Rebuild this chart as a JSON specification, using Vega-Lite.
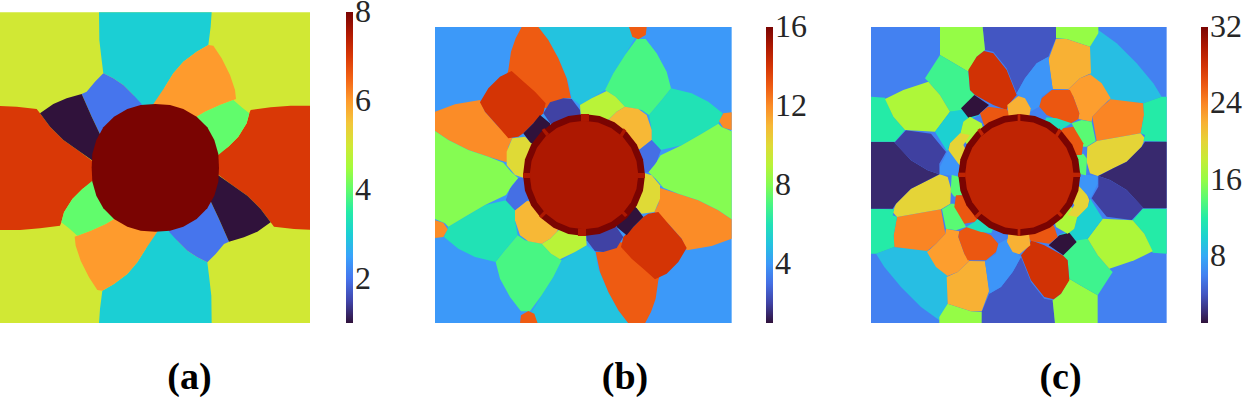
{"$schema":"https://vega.github.io/schema/vega-lite/v6.json","padding":0,"background":"white","spacing":0,"bounds":"flush","resolve":{"scale":{"color":"independent"},"legend":{"color":"independent"}},"config":{"view":{"stroke":null},"title":{"font":"Liberation Serif","fontSize":38,"fontWeight":"bold","color":"black","orient":"bottom"},"legend":{"title":null,"orient":"none","direction":"vertical","gradientThickness":7,"gradientStrokeWidth":0,"labelFont":"Liberation Serif","labelFontSize":32,"labelColor":"#262626","labelOffset":17,"labelOverlap":false}},"hconcat":[
{"width":435,"height":323,"title":{"text":"(a)","offset":36,"dx":-28},"projection":{"type":"identity","scale":0.33333,"translate":[0,0],"precision":0.5},"mark":{"type":"geoshape"},
"encoding":{"color":{"field":"v","type":"quantitative","scale":{"interpolate":"rgb","domain":[1,1.5,2,2.5,3,3.5,4,4.5,5,5.5,6,6.5,7,7.5,8],"range":["#30123b","#4145ab","#4675ed","#39a2fc","#1bcfd4","#24eca6","#61fc6c","#a4fc3b","#d1e834","#f3c63a","#fe9b2d","#f36315","#d93806","#b11901","#7a0402"]},"legend":{"type":"gradient","values":[2,4,6,8],"legendX":346,"legendY":12,"gradientLength":311,"encoding":{"labels":{"baseline":{"value":"middle"}}}}}},
"data":{"values":[
{"type":"Feature","v":5,"geometry":{"type":"Polygon","coordinates":[[[0,37],[930,37],[930,970],[0,970],[0,37]]]}},
{"type":"Feature","v":3,"geometry":{"type":"Polygon","coordinates":[[[297,37],[635,37],[632,80],[625,135],[590,155],[550,185],[520,220],[495,260],[460,350],[425,350],[400,285],[370,255],[340,235],[310,220],[305,180],[298,120],[297,37]]]}},
{"type":"Feature","v":3,"geometry":{"type":"Polygon","coordinates":[[[635,970],[297,970],[300,927],[307,872],[342,852],[382,822],[412,787],[437,747],[472,657],[507,657],[532,722],[562,752],[592,772],[622,787],[627,827],[634,887],[635,970]]]}},
{"type":"Feature","v":6,"geometry":{"type":"Polygon","coordinates":[[[460,312],[495,260],[520,220],[550,185],[590,155],[625,135],[640,137],[665,175],[690,225],[705,270],[708,297],[660,315],[615,335],[590,350],[540,400],[470,400],[460,312]]]}},
{"type":"Feature","v":6,"geometry":{"type":"Polygon","coordinates":[[[472,695],[437,747],[412,787],[382,822],[342,852],[307,872],[292,870],[267,832],[242,782],[227,737],[224,710],[272,692],[317,672],[342,657],[392,607],[462,607],[472,695]]]}},
{"type":"Feature","v":2,"geometry":{"type":"Polygon","coordinates":[[[260,275],[285,245],[310,220],[340,235],[370,255],[400,285],[425,312],[420,400],[340,440],[300,403],[275,350],[245,282],[260,275]]]}},
{"type":"Feature","v":2,"geometry":{"type":"Polygon","coordinates":[[[672,732],[647,762],[622,787],[592,772],[562,752],[532,722],[507,695],[512,607],[592,567],[632,604],[657,657],[687,725],[672,732]]]}},
{"type":"Feature","v":7,"geometry":{"type":"Polygon","coordinates":[[[0,318],[50,320],[110,327],[120,340],[150,380],[190,420],[240,455],[280,485],[280,545],[247,567],[217,597],[192,637],[184,667],[180,677],[120,685],[60,690],[0,690],[0,318]]]}},
{"type":"Feature","v":7,"geometry":{"type":"Polygon","coordinates":[[[930,689],[882,687],[822,680],[812,667],[782,627],[742,587],[692,552],[652,522],[652,462],[685,440],[715,410],[740,370],[748,340],[752,330],[812,322],[872,317],[930,317],[930,689]]]}},
{"type":"Feature","v":1,"geometry":{"type":"Polygon","coordinates":[[[120,340],[160,312],[200,295],[245,282],[275,350],[300,403],[340,440],[320,500],[275,480],[240,455],[190,420],[150,380],[120,340]]]}},
{"type":"Feature","v":1,"geometry":{"type":"Polygon","coordinates":[[[812,667],[772,695],[732,712],[687,725],[657,657],[632,604],[592,567],[612,507],[657,527],[692,552],[742,587],[782,627],[812,667]]]}},
{"type":"Feature","v":4,"geometry":{"type":"Polygon","coordinates":[[[590,350],[615,335],[660,315],[700,300],[725,322],[748,340],[740,370],[715,410],[685,440],[655,465],[600,430],[590,350]]]}},
{"type":"Feature","v":4,"geometry":{"type":"Polygon","coordinates":[[[342,657],[317,672],[272,692],[232,707],[207,685],[184,667],[192,637],[217,597],[247,567],[277,542],[332,577],[342,657]]]}},
{"type":"Feature","v":8,"geometry":{"type":"Polygon","coordinates":[[[466,312],[510,315],[550,327],[590,350],[622,382],[643,420],[655,462],[657,503],[655,545],[643,587],[622,625],[590,657],[550,680],[510,692],[466,695],[422,692],[382,680],[342,657],[310,625],[289,587],[277,545],[275,503],[277,462],[289,420],[310,382],[342,350],[382,327],[422,315],[466,312]]]}}
]}},
{"width":436,"height":323,"title":{"text":"(b)","offset":36,"dx":-28},"projection":{"type":"identity","scale":0.33333,"translate":[-10,15],"precision":0.6},"mark":{"type":"geoshape"},
"encoding":{"color":{"field":"v","type":"quantitative","scale":{"interpolate":"rgb","domain":[1,2.07,3.14,4.21,5.29,6.36,7.43,8.5,9.57,10.64,11.71,12.79,13.86,14.93,16],"range":["#30123b","#4145ab","#4675ed","#39a2fc","#1bcfd4","#24eca6","#61fc6c","#a4fc3b","#d1e834","#f3c63a","#fe9b2d","#f36315","#d93806","#b11901","#7a0402"]},"legend":{"type":"gradient","values":[4,8,12,16],"legendX":331,"legendY":27,"gradientLength":296,"encoding":{"labels":{"baseline":{"value":"middle"}}}}}},
"data":{"values":[
{"type":"Feature","v":4,"geometry":{"type":"Polygon","coordinates":[[[30,36],[920,36],[920,925],[30,925],[30,36]]]}},
{"type":"Feature","v":5,"geometry":{"type":"Polygon","coordinates":[[[340,36],[612,36],[630,70],[600,120],[565,175],[540,225],[500,250],[465,270],[440,250],[430,200],[400,130],[370,75],[340,36]]]}},
{"type":"Feature","v":5,"geometry":{"type":"Polygon","coordinates":[[[610,925],[338,925],[320,891],[350,841],[385,786],[410,736],[450,711],[485,691],[510,711],[520,761],[550,831],[580,886],[610,925]]]}},
{"type":"Feature","v":6,"geometry":{"type":"Polygon","coordinates":[[[672,300],[710,255],[738,220],[800,235],[850,260],[893,295],[880,326],[830,356],[770,391],[707,405],[680,375],[680,345],[672,300]]]}},
{"type":"Feature","v":6,"geometry":{"type":"Polygon","coordinates":[[[278,661],[240,706],[212,741],[150,726],[100,701],[57,666],[70,635],[120,605],[180,570],[243,556],[270,586],[270,616],[278,661]]]}},
{"type":"Feature","v":7,"geometry":{"type":"Polygon","coordinates":[[[540,225],[572,245],[600,275],[650,285],[672,300],[710,255],[738,220],[725,170],[695,115],[662,72],[635,72],[600,120],[565,175],[540,225]]]}},
{"type":"Feature","v":7,"geometry":{"type":"Polygon","coordinates":[[[410,736],[378,716],[350,686],[300,676],[278,661],[240,706],[212,741],[225,791],[255,846],[288,889],[315,889],[350,841],[385,786],[410,736]]]}},
{"type":"Feature","v":13,"geometry":{"type":"Polygon","coordinates":[[[290,36],[340,36],[370,75],[400,130],[425,190],[438,250],[415,250],[370,280],[300,270],[240,200],[250,165],[258,110],[272,70],[290,36]]]}},
{"type":"Feature","v":13,"geometry":{"type":"Polygon","coordinates":[[[660,925],[610,925],[580,886],[550,831],[525,771],[512,711],[535,711],[580,681],[650,691],[710,761],[700,796],[692,851],[678,891],[660,925]]]}},
{"type":"Feature","v":12,"geometry":{"type":"Polygon","coordinates":[[[30,290],[90,268],[165,255],[180,290],[220,335],[262,370],[250,395],[245,442],[190,425],[130,405],[70,375],[30,348],[30,290]]]}},
{"type":"Feature","v":12,"geometry":{"type":"Polygon","coordinates":[[[920,671],[860,693],[785,706],[770,671],[730,626],[688,591],[700,566],[705,519],[760,536],[820,556],[880,586],[920,613],[920,671]]]}},
{"type":"Feature","v":8,"geometry":{"type":"Polygon","coordinates":[[[30,348],[70,375],[130,405],[190,425],[235,443],[258,470],[280,490],[262,510],[243,540],[180,570],[120,605],[70,635],[60,625],[30,612],[30,348]]]}},
{"type":"Feature","v":8,"geometry":{"type":"Polygon","coordinates":[[[920,613],[880,586],[820,556],[760,536],[715,518],[692,491],[670,471],[688,451],[707,421],[770,391],[830,356],[880,326],[890,336],[920,349],[920,613]]]}},
{"type":"Feature","v":14,"geometry":{"type":"Polygon","coordinates":[[[260,168],[290,195],[330,230],[362,265],[355,295],[325,325],[295,355],[280,365],[250,370],[220,335],[180,290],[165,262],[190,220],[225,185],[260,168]]]}},
{"type":"Feature","v":14,"geometry":{"type":"Polygon","coordinates":[[[690,793],[660,766],[620,731],[588,696],[595,666],[625,636],[655,606],[670,596],[700,591],[730,626],[770,671],[785,699],[760,741],[725,776],[690,793]]]}},
{"type":"Feature","v":9,"geometry":{"type":"Polygon","coordinates":[[[465,270],[500,250],[545,228],[572,245],[600,275],[575,290],[555,310],[520,340],[470,340],[465,270]]]}},
{"type":"Feature","v":9,"geometry":{"type":"Polygon","coordinates":[[[485,691],[450,711],[405,733],[378,716],[350,686],[375,671],[395,651],[430,621],[480,621],[485,691]]]}},
{"type":"Feature","v":11,"geometry":{"type":"Polygon","coordinates":[[[555,310],[575,290],[600,275],[640,282],[665,300],[680,345],[680,375],[645,403],[600,400],[530,350],[555,310]]]}},
{"type":"Feature","v":11,"geometry":{"type":"Polygon","coordinates":[[[395,651],[375,671],[350,686],[310,679],[285,661],[270,616],[270,586],[305,558],[350,561],[420,611],[395,651]]]}},
{"type":"Feature","v":3,"geometry":{"type":"Polygon","coordinates":[[[645,403],[680,375],[708,405],[695,440],[670,472],[640,475],[620,430],[645,403]]]}},
{"type":"Feature","v":3,"geometry":{"type":"Polygon","coordinates":[[[305,558],[270,586],[242,556],[255,521],[280,489],[310,486],[330,531],[305,558]]]}},
{"type":"Feature","v":10,"geometry":{"type":"Polygon","coordinates":[[[262,370],[300,365],[320,385],[340,440],[330,488],[295,488],[270,480],[245,450],[245,410],[262,370]]]}},
{"type":"Feature","v":10,"geometry":{"type":"Polygon","coordinates":[[[688,591],[650,596],[630,576],[610,521],[620,473],[655,473],[680,481],[705,511],[705,551],[688,591]]]}},
{"type":"Feature","v":2,"geometry":{"type":"Polygon","coordinates":[[[355,295],[375,262],[415,250],[440,252],[465,285],[470,340],[400,360],[355,295]]]}},
{"type":"Feature","v":2,"geometry":{"type":"Polygon","coordinates":[[[595,666],[575,699],[535,711],[510,709],[485,676],[480,621],[550,601],[595,666]]]}},
{"type":"Feature","v":1,"geometry":{"type":"Polygon","coordinates":[[[295,355],[325,325],[345,300],[375,325],[380,370],[340,400],[315,382],[295,355]]]}},
{"type":"Feature","v":1,"geometry":{"type":"Polygon","coordinates":[[[655,606],[625,636],[605,661],[575,636],[570,591],[610,561],[635,579],[655,606]]]}},
{"type":"Feature","v":13,"geometry":{"type":"Polygon","coordinates":[[[612,36],[665,36],[662,60],[640,73],[622,65],[612,36]]]}},
{"type":"Feature","v":13,"geometry":{"type":"Polygon","coordinates":[[[338,925],[285,925],[288,901],[310,888],[328,896],[338,925]]]}},
{"type":"Feature","v":12,"geometry":{"type":"Polygon","coordinates":[[[895,295],[920,292],[920,345],[895,338],[882,318],[895,295]]]}},
{"type":"Feature","v":12,"geometry":{"type":"Polygon","coordinates":[[[55,666],[30,669],[30,616],[55,623],[68,643],[55,666]]]}},
{"type":"Feature","v":16,"geometry":{"type":"Polygon","coordinates":[[[660,480],[654,433],[635.5,388.5],[606,351],[568.5,321.5],[524,303],[477,297],[430,303],[385.5,321.5],[348,351],[318.5,388.5],[300,433],[294,480],[300,527],[318.5,571.5],[348,609],[385.5,638.5],[430,657],[477,663],[524,657],[568.5,638.5],[606,609],[635.5,571.5],[654,527],[660,480]]]}},
{"type":"Feature","v":15,"geometry":{"type":"Polygon","coordinates":[[[640,480],[634.4,438],[618.2,398.5],[592.3,364.7],[558.5,338.8],[519.2,322.6],[477,317],[434.8,322.6],[395.5,338.8],[361.7,364.7],[335.8,398.5],[319.6,438],[314,480],[319.6,522],[335.8,561.5],[361.7,595.3],[395.5,621.2],[434.8,637.4],[477,643],[519.2,637.4],[558.5,621.2],[592.3,595.3],[618.2,561.5],[634.4,522],[640,480]]]}},
{"type":"Feature","v":15,"geometry":{"type":"Polygon","coordinates":[[[468,297],[492,297],[492,320],[468,320],[468,297]]]}},
{"type":"Feature","v":15,"geometry":{"type":"Polygon","coordinates":[[[459,640],[483,640],[483,663],[459,663],[459,640]]]}},
{"type":"Feature","v":15,"geometry":{"type":"Polygon","coordinates":[[[294,474],[316,474],[316,489],[294,489],[294,474]]]}},
{"type":"Feature","v":15,"geometry":{"type":"Polygon","coordinates":[[[637,474],[660,474],[660,489],[637,489],[637,474]]]}},
{"type":"Feature","v":15,"geometry":{"type":"Polygon","coordinates":[[[350,345],[358,340],[372,356],[364,364],[350,345]]]}},
{"type":"Feature","v":15,"geometry":{"type":"Polygon","coordinates":[[[596,340],[604,347],[592,366],[584,360],[596,340]]]}},
{"type":"Feature","v":15,"geometry":{"type":"Polygon","coordinates":[[[342,604],[350,610],[368,592],[360,585],[342,604]]]}},
{"type":"Feature","v":15,"geometry":{"type":"Polygon","coordinates":[[[600,606],[608,600],[594,586],[586,592],[600,606]]]}}
]}},
{"width":379,"height":323,"title":{"text":"(c)","offset":36,"dx":0},"projection":{"type":"identity","scale":0.33333,"translate":[-11,15],"precision":0.7},"mark":{"type":"geoshape"},
"encoding":{"color":{"field":"v","type":"quantitative","scale":{"interpolate":"rgb","domain":[1,3.21,5.43,7.64,9.86,12.07,14.29,16.5,18.71,20.93,23.14,25.36,27.57,29.79,32],"range":["#30123b","#4145ab","#4675ed","#39a2fc","#1bcfd4","#24eca6","#61fc6c","#a4fc3b","#d1e834","#f3c63a","#fe9b2d","#f36315","#d93806","#b11901","#7a0402"]},"legend":{"type":"gradient","values":[8,16,24,32],"legendX":330,"legendY":27,"gradientLength":296,"encoding":{"labels":{"baseline":{"value":"middle"}}}}}},
"data":{"values":[
{"type":"Feature","v":6,"geometry":{"type":"Polygon","coordinates":[[[33,36],[920,36],[920,925],[33,925],[33,36]]]}},
{"type":"Feature","v":9,"geometry":{"type":"Polygon","coordinates":[[[715,45],[770,85],[830,145],[880,205],[905,245],[850,265],[730,255],[690,180],[690,95],[715,45]]]}},
{"type":"Feature","v":9,"geometry":{"type":"Polygon","coordinates":[[[238,916],[183,876],[123,816],[73,756],[48,716],[103,696],[223,706],[263,781],[263,866],[238,916]]]}},
{"type":"Feature","v":4,"geometry":{"type":"Polygon","coordinates":[[[368,36],[590,36],[588,70],[565,125],[530,145],[495,190],[470,235],[440,160],[400,110],[375,105],[368,36]]]}},
{"type":"Feature","v":4,"geometry":{"type":"Polygon","coordinates":[[[585,925],[363,925],[365,891],[388,836],[423,816],[458,771],[483,726],[513,801],[553,851],[578,856],[585,925]]]}},
{"type":"Feature","v":16,"geometry":{"type":"Polygon","coordinates":[[[240,36],[368,36],[375,105],[350,125],[325,170],[300,155],[240,120],[240,36]]]}},
{"type":"Feature","v":16,"geometry":{"type":"Polygon","coordinates":[[[713,925],[585,925],[578,856],[603,836],[628,791],[653,806],[713,841],[713,925]]]}},
{"type":"Feature","v":16,"geometry":{"type":"Polygon","coordinates":[[[588,36],[715,36],[715,55],[690,95],[620,72],[588,70],[588,36]]]}},
{"type":"Feature","v":16,"geometry":{"type":"Polygon","coordinates":[[[365,925],[238,925],[238,906],[263,866],[333,889],[365,891],[365,925]]]}},
{"type":"Feature","v":22,"geometry":{"type":"Polygon","coordinates":[[[588,72],[620,72],[690,95],[693,175],[660,190],[625,223],[578,222],[565,135],[588,72]]]}},
{"type":"Feature","v":22,"geometry":{"type":"Polygon","coordinates":[[[365,889],[333,889],[263,866],[260,786],[293,771],[328,738],[375,739],[388,826],[365,889]]]}},
{"type":"Feature","v":7,"geometry":{"type":"Polygon","coordinates":[[[470,235],[495,190],[530,145],[565,125],[578,222],[545,245],[538,275],[510,290],[480,245],[470,235]]]}},
{"type":"Feature","v":7,"geometry":{"type":"Polygon","coordinates":[[[483,726],[458,771],[423,816],[388,836],[375,739],[408,716],[415,686],[443,671],[473,716],[483,726]]]}},
{"type":"Feature","v":23,"geometry":{"type":"Polygon","coordinates":[[[625,223],[660,190],[690,178],[725,205],[752,250],[725,275],[697,305],[695,320],[655,312],[658,295],[640,245],[625,223]]]}},
{"type":"Feature","v":23,"geometry":{"type":"Polygon","coordinates":[[[328,738],[293,771],[263,783],[228,756],[201,711],[228,686],[256,656],[258,641],[298,649],[295,666],[313,716],[328,738]]]}},
{"type":"Feature","v":24,"geometry":{"type":"Polygon","coordinates":[[[752,253],[850,265],[852,300],[842,355],[710,378],[697,305],[725,275],[752,253]]]}},
{"type":"Feature","v":24,"geometry":{"type":"Polygon","coordinates":[[[201,708],[103,696],[101,661],[111,606],[243,583],[256,656],[228,686],[201,708]]]}},
{"type":"Feature","v":26,"geometry":{"type":"Polygon","coordinates":[[[575,225],[630,225],[640,245],[658,295],[655,312],[620,332],[595,315],[560,300],[538,275],[545,250],[575,225]]]}},
{"type":"Feature","v":26,"geometry":{"type":"Polygon","coordinates":[[[378,736],[323,736],[313,716],[295,666],[298,649],[333,629],[358,646],[393,661],[415,686],[408,711],[378,736]]]}},
{"type":"Feature","v":20,"geometry":{"type":"Polygon","coordinates":[[[710,378],[842,355],[855,370],[845,395],[800,440],[760,460],[713,483],[690,475],[680,440],[682,395],[710,378]]]}},
{"type":"Feature","v":20,"geometry":{"type":"Polygon","coordinates":[[[243,583],[111,606],[98,591],[108,566],[153,521],[193,501],[240,478],[263,486],[273,521],[271,566],[243,583]]]}},
{"type":"Feature","v":12,"geometry":{"type":"Polygon","coordinates":[[[850,265],[905,245],[920,245],[920,380],[850,378],[855,360],[842,355],[852,300],[850,265]]]}},
{"type":"Feature","v":12,"geometry":{"type":"Polygon","coordinates":[[[33,245],[75,248],[100,305],[135,345],[105,380],[33,380],[33,245]]]}},
{"type":"Feature","v":12,"geometry":{"type":"Polygon","coordinates":[[[103,696],[48,716],[33,716],[33,581],[103,583],[98,601],[111,606],[101,661],[103,696]]]}},
{"type":"Feature","v":12,"geometry":{"type":"Polygon","coordinates":[[[920,716],[878,713],[853,656],[818,616],[848,581],[920,581],[920,716]]]}},
{"type":"Feature","v":2,"geometry":{"type":"Polygon","coordinates":[[[715,483],[760,460],[800,440],[845,395],[855,380],[920,380],[920,580],[850,580],[800,525],[750,495],[715,483]]]}},
{"type":"Feature","v":2,"geometry":{"type":"Polygon","coordinates":[[[238,478],[193,501],[153,521],[108,566],[98,581],[33,581],[33,381],[103,381],[153,436],[203,466],[238,478]]]}},
{"type":"Feature","v":3,"geometry":{"type":"Polygon","coordinates":[[[715,483],[750,495],[800,525],[850,578],[815,615],[740,605],[695,550],[715,515],[715,483]]]}},
{"type":"Feature","v":3,"geometry":{"type":"Polygon","coordinates":[[[238,478],[203,466],[153,436],[103,383],[138,346],[213,356],[258,411],[238,446],[238,478]]]}},
{"type":"Feature","v":13,"geometry":{"type":"Polygon","coordinates":[[[240,120],[300,155],[325,170],[330,225],[345,240],[305,290],[270,290],[240,240],[205,200],[195,190],[240,120]]]}},
{"type":"Feature","v":13,"geometry":{"type":"Polygon","coordinates":[[[713,841],[653,806],[628,791],[623,736],[608,721],[648,671],[683,671],[713,721],[748,761],[758,771],[713,841]]]}},
{"type":"Feature","v":17,"geometry":{"type":"Polygon","coordinates":[[[75,252],[130,225],[205,200],[240,240],[270,290],[225,350],[135,345],[100,305],[75,252]]]}},
{"type":"Feature","v":17,"geometry":{"type":"Polygon","coordinates":[[[878,709],[823,736],[748,761],[713,721],[683,671],[728,611],[818,616],[853,656],[878,709]]]}},
{"type":"Feature","v":28,"geometry":{"type":"Polygon","coordinates":[[[325,165],[350,125],[372,108],[400,115],[440,165],[470,240],[445,270],[440,285],[400,270],[345,240],[330,225],[325,165]]]}},
{"type":"Feature","v":28,"geometry":{"type":"Polygon","coordinates":[[[628,796],[603,836],[581,853],[553,846],[513,796],[483,721],[508,691],[513,676],[553,691],[608,721],[623,736],[628,796]]]}},
{"type":"Feature","v":10,"geometry":{"type":"Polygon","coordinates":[[[225,350],[270,290],[330,280],[360,300],[310,320],[300,360],[270,385],[262,410],[225,350]]]}},
{"type":"Feature","v":10,"geometry":{"type":"Polygon","coordinates":[[[728,611],[683,671],[623,681],[593,661],[643,641],[653,601],[683,576],[691,551],[728,611]]]}},
{"type":"Feature","v":1,"geometry":{"type":"Polygon","coordinates":[[[343,240],[387,270],[355,300],[325,308],[303,280],[343,240]]]}},
{"type":"Feature","v":1,"geometry":{"type":"Polygon","coordinates":[[[610,721],[566,691],[598,661],[628,653],[650,681],[610,721]]]}},
{"type":"Feature","v":26,"geometry":{"type":"Polygon","coordinates":[[[360,295],[385,275],[440,283],[450,295],[450,360],[390,360],[370,325],[360,295]]]}},
{"type":"Feature","v":26,"geometry":{"type":"Polygon","coordinates":[[[593,666],[568,686],[513,678],[503,666],[503,601],[563,601],[583,636],[593,666]]]}},
{"type":"Feature","v":22,"geometry":{"type":"Polygon","coordinates":[[[442,270],[475,243],[495,250],[512,280],[505,340],[450,340],[442,270]]]}},
{"type":"Feature","v":22,"geometry":{"type":"Polygon","coordinates":[[[511,691],[478,718],[458,711],[441,681],[448,621],[503,621],[511,691]]]}},
{"type":"Feature","v":17,"geometry":{"type":"Polygon","coordinates":[[[310,320],[330,305],[365,325],[380,380],[330,400],[300,360],[310,320]]]}},
{"type":"Feature","v":17,"geometry":{"type":"Polygon","coordinates":[[[643,641],[623,656],[588,636],[573,581],[623,561],[653,601],[643,641]]]}},
{"type":"Feature","v":20,"geometry":{"type":"Polygon","coordinates":[[[270,385],[300,355],[330,360],[310,390],[340,450],[298,450],[275,430],[265,405],[270,385]]]}},
{"type":"Feature","v":20,"geometry":{"type":"Polygon","coordinates":[[[683,576],[653,606],[623,601],[643,571],[613,511],[655,511],[678,531],[688,556],[683,576]]]}},
{"type":"Feature","v":7,"geometry":{"type":"Polygon","coordinates":[[[262,410],[265,405],[298,450],[340,450],[340,485],[298,485],[240,478],[240,455],[262,410]]]}},
{"type":"Feature","v":7,"geometry":{"type":"Polygon","coordinates":[[[691,551],[655,511],[613,511],[613,476],[655,476],[713,483],[713,506],[691,551]]]}},
{"type":"Feature","v":14,"geometry":{"type":"Polygon","coordinates":[[[275,480],[298,485],[340,485],[340,540],[300,540],[283,545],[272,530],[275,480]]]}},
{"type":"Feature","v":14,"geometry":{"type":"Polygon","coordinates":[[[678,481],[655,476],[613,476],[613,421],[653,421],[670,416],[681,431],[678,481]]]}},
{"type":"Feature","v":14,"geometry":{"type":"Polygon","coordinates":[[[635,325],[665,315],[695,320],[707,378],[680,395],[670,395],[635,325]]]}},
{"type":"Feature","v":14,"geometry":{"type":"Polygon","coordinates":[[[318,636],[288,646],[258,641],[246,583],[273,566],[283,566],[318,636]]]}},
{"type":"Feature","v":11,"geometry":{"type":"Polygon","coordinates":[[[540,305],[590,310],[635,325],[610,340],[580,370],[520,350],[540,305]]]}},
{"type":"Feature","v":11,"geometry":{"type":"Polygon","coordinates":[[[413,656],[363,651],[318,636],[343,621],[373,591],[433,611],[413,656]]]}},
{"type":"Feature","v":26,"geometry":{"type":"Polygon","coordinates":[[[610,340],[640,335],[670,385],[665,420],[600,420],[580,370],[610,340]]]}},
{"type":"Feature","v":26,"geometry":{"type":"Polygon","coordinates":[[[343,621],[313,626],[283,576],[288,541],[353,541],[373,591],[343,621]]]}},
{"type":"Feature","v":6,"geometry":{"type":"Polygon","coordinates":[[[510,290],[540,285],[560,305],[540,350],[505,340],[510,290]]]}},
{"type":"Feature","v":6,"geometry":{"type":"Polygon","coordinates":[[[443,671],[413,676],[393,656],[413,611],[448,621],[443,671]]]}},
{"type":"Feature","v":32,"geometry":{"type":"Polygon","coordinates":[[[661,480],[655,433],[636.5,388.5],[607,351],[569.5,321.5],[525,303],[478,297],[431,303],[386.5,321.5],[349,351],[319.5,388.5],[301,433],[295,480],[301,527],[319.5,571.5],[349,609],[386.5,638.5],[431,657],[478,663],[525,657],[569.5,638.5],[607,609],[636.5,571.5],[655,527],[661,480]]]}},
{"type":"Feature","v":29,"geometry":{"type":"Polygon","coordinates":[[[641,480],[635.4,438],[619.2,398.5],[593.3,364.7],[559.5,338.8],[520.2,322.6],[478,317],[435.8,322.6],[396.5,338.8],[362.7,364.7],[336.8,398.5],[320.6,438],[315,480],[320.6,522],[336.8,561.5],[362.7,595.3],[396.5,621.2],[435.8,637.4],[478,643],[520.2,637.4],[559.5,621.2],[593.3,595.3],[619.2,561.5],[635.4,522],[641,480]]]}},
{"type":"Feature","v":29,"geometry":{"type":"Polygon","coordinates":[[[473,297],[481,297],[481,320],[473,320],[473,297]]]}},
{"type":"Feature","v":29,"geometry":{"type":"Polygon","coordinates":[[[473,640],[481,640],[481,663],[473,663],[473,640]]]}},
{"type":"Feature","v":29,"geometry":{"type":"Polygon","coordinates":[[[295,473],[317,473],[317,486],[295,486],[295,473]]]}},
{"type":"Feature","v":29,"geometry":{"type":"Polygon","coordinates":[[[639,473],[661,473],[661,486],[639,486],[639,473]]]}},
{"type":"Feature","v":29,"geometry":{"type":"Polygon","coordinates":[[[352,345],[360,340],[372,356],[364,364],[352,345]]]}},
{"type":"Feature","v":29,"geometry":{"type":"Polygon","coordinates":[[[597,340],[605,347],[593,366],[585,360],[597,340]]]}},
{"type":"Feature","v":29,"geometry":{"type":"Polygon","coordinates":[[[343,604],[351,610],[369,592],[361,585],[343,604]]]}},
{"type":"Feature","v":29,"geometry":{"type":"Polygon","coordinates":[[[601,606],[609,600],[595,586],[587,592],[601,606]]]}}
]}}
]}
